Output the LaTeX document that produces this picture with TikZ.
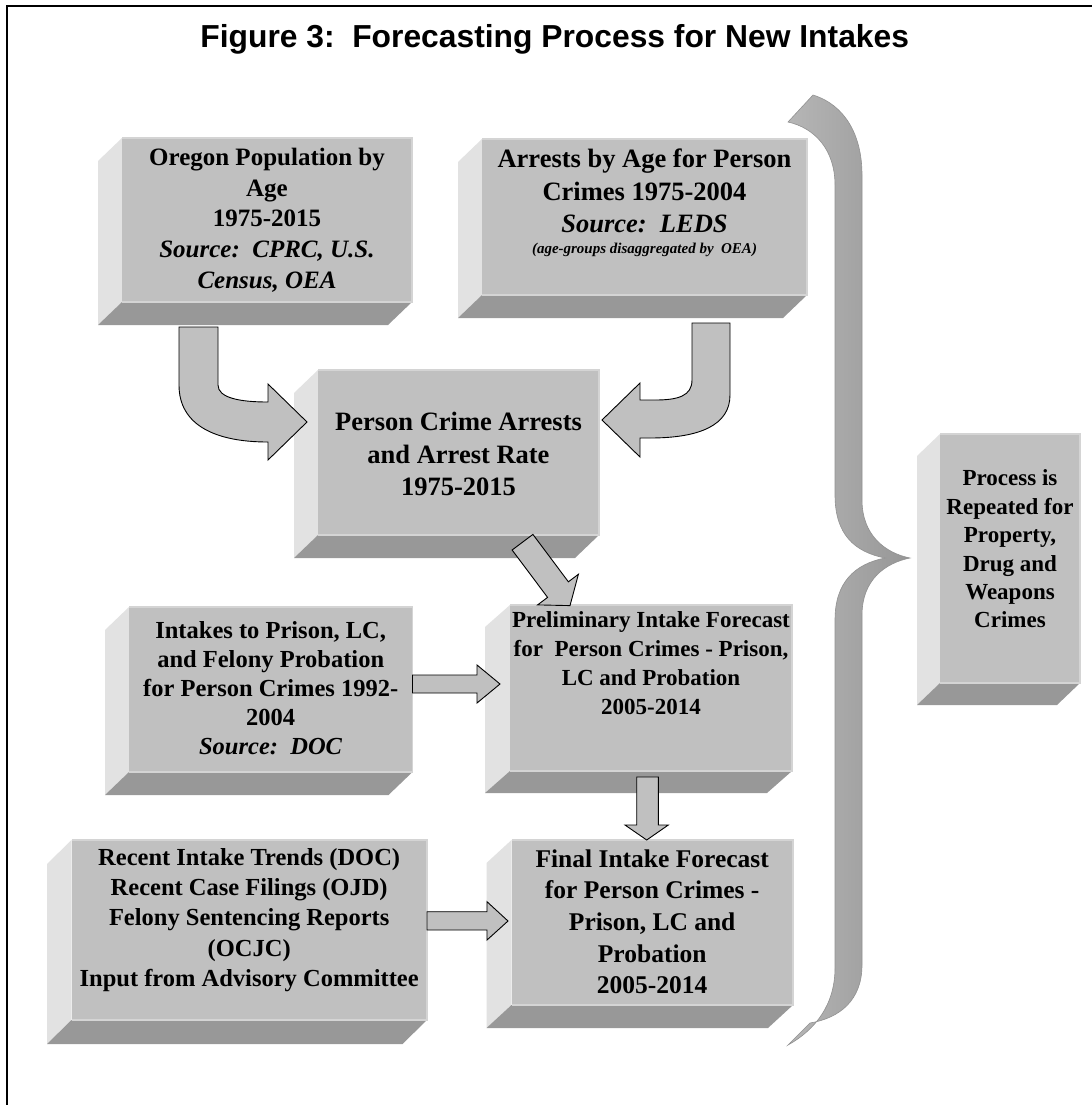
\documentclass[tikz,border=0pt]{standalone}
\usepackage{fontspec}
\setmainfont{Liberation Serif}
\newfontfamily\titlefont{Liberation Sans}
\definecolor{frontc}{RGB}{192,192,192}
\definecolor{sidec}{RGB}{226,226,226}
\definecolor{botc}{RGB}{152,152,152}
\definecolor{hic}{RGB}{212,212,212}
\definecolor{arrowc}{RGB}{192,192,192}
\definecolor{braceL}{RGB}{182,182,182}
\definecolor{braceR}{RGB}{150,150,150}
\definecolor{braceedge}{RGB}{145,145,145}
\newcommand{\bevelbox}[7]{%
  \fill[sidec] ({#2-#6},{#3+#7}) -- (#2,#3) -- (#2,#5) -- ({#2-#6},{#5+#7}) -- cycle;
  \fill[botc] (#2,#5) -- (#4,#5) -- ({#4-#6},{#5+#7}) -- ({#2-#6},{#5+#7}) -- cycle;
  \fill[frontc] (#2,#3) rectangle (#4,#5);
  \draw[hic, line width=1.2bp] (#2,#3) -- (#4,#3) -- (#4,#5) -- (#2,#5);
  \coordinate (#1) at ({(#2+#4)/2},{(#3+#5)/2});
}
\tikzset{
  blockarrow/.style={fill=arrowc, draw=black, line width=0.9bp, line join=miter},
  boxtext/.style={align=center, inner sep=0pt, anchor=north, text=black},
  fsA/.style={font=\fontsize{25bp}{30.8bp}\selectfont\bfseries},
  fsB/.style={font=\fontsize{26.5bp}{32.5bp}\selectfont\bfseries},
}
\begin{document}
\begin{tikzpicture}[x=1bp,y=-1bp]
\useasboundingbox (0,0) rectangle (1092,1105);
\fill[white] (0,0) rectangle (1092,1105);
% frame
\draw[black, line width=2bp] (7,1106) -- (7,6) -- (1093,6);
% title
\node[font=\titlefont\fontsize{31.8bp}{36bp}\selectfont\bfseries, anchor=base, inner sep=0pt] (title) at (554.7,47) {Figure 3:\ \ Forecasting Process for New Intakes};

% brace
\path[left color=braceL, right color=braceR, draw=braceedge, line width=0.6bp]
  (813,95) .. controls (845,105) and (862,135) .. (862,175)
  -- (862,500) .. controls (862,535) and (885,553) .. (910,558)
  .. controls (885,563) and (862,580) .. (862,615)
  -- (862,965) .. controls (862,1000) and (840,1018) .. (810,1023)
  -- (788,1045) .. controls (815,1030) and (835,1005) .. (835,968)
  -- (835,620) .. controls (835,582) and (855,564) .. (885,558)
  .. controls (855,552) and (835,535) .. (835,495)
  -- (835,185) .. controls (835,150) and (815,128) .. (788,122) -- cycle;

% boxes
\bevelbox{b1}{122}{138}{412}{302}{24}{23}
\bevelbox{b2}{482}{139}{807}{295}{24}{23}
\bevelbox{b3}{318}{370}{599}{535}{24}{23}
\bevelbox{b4}{129}{607}{412.5}{772}{24}{23}
\bevelbox{b5}{510}{605}{792}{771}{25}{22}
\bevelbox{b6}{511.5}{840}{793}{1005}{25}{23}
\bevelbox{b7}{71.5}{840}{427}{1020}{24.5}{24}
\bevelbox{b8}{940}{434}{1080}{683}{23}{22}

% texts
\node[boxtext, fsA] (t1) at (267,147.7) {Oregon Population by\\Age\\1975-2015\\\textit{Source:\ \ CPRC, U.S.}\\\textit{Census, OEA}};
\node[boxtext, fsB] (t2) at (644.5,148.8) {Arrests by Age for Person\\Crimes 1975-2004\\\textit{Source:\ \ LEDS}};
\node[anchor=base, inner sep=0pt, font=\fontsize{15bp}{18bp}\selectfont\bfseries\itshape] (t2s) at (644.5,253.3) {(age-groups disaggregated by\ \ OEA)};
\node[boxtext, fsB] (t3) at (458.5,412.2) {Person Crime Arrests\\and Arrest Rate\\1975-2015};
\node[boxtext, font=\fontsize{24.5bp}{29bp}\selectfont\bfseries] (t4) at (270.7,621.2) {Intakes to Prison, LC,\\and Felony Probation\\for Person Crimes 1992-\\2004\\\textit{Source:\ \ DOC}};
\node[boxtext, font=\fontsize{23bp}{29bp}\selectfont\bfseries] (t5) at (651,611) {Preliminary Intake Forecast\\for\ \ Person Crimes - Prison,\\LC and Probation\\2005-2014};
\node[boxtext, font=\fontsize{25.5bp}{31.7bp}\selectfont\bfseries] (t6) at (652.2,849.1) {Final Intake Forecast\\for Person Crimes -\\Prison, LC and\\Probation\\2005-2014};
\node[boxtext, font=\fontsize{24.5bp}{30.3bp}\selectfont\bfseries] (t7) at (249.2,847.9) {Recent Intake Trends (DOC)\\Recent Case Filings (OJD)\\Felony Sentencing Reports\\(OCJC)\\Input from Advisory Committee};
\node[boxtext, font=\fontsize{23bp}{28.4bp}\selectfont\bfseries] (t8) at (1010,469.7) {Process is\\Repeated for\\Property,\\Drug and\\Weapons\\Crimes};

% curved arrow from b1 into b3
\path[blockarrow] (179,327) -- (179,385) .. controls (179,425) and (215,442) .. (268,442)
  -- (268,460) -- (307,422) -- (268,384) -- (268,402)
  .. controls (240,402) and (218,398) .. (218,385) -- (218,327) -- cycle;
% curved arrow from b2 into b3
\path[blockarrow] (730,323) -- (730,395) .. controls (730,425) and (700,438) .. (650,438)
  -- (640,438) -- (640,457) -- (602,420) -- (640,383) -- (640,400) -- (655,400)
  .. controls (678,400) and (692,396) .. (692,380) -- (692,323) -- cycle;
% diagonal arrow b3 -> b5
\path[blockarrow] (512.1,550) -- (532.9,534.4) -- (568.4,581.8) -- (578.4,574.3)
  -- (570,605.6) -- (537.6,604.9) -- (547.6,597.4) -- cycle;
% right arrow b4 -> b5
\path[blockarrow] (412.5,675) -- (477,675) -- (477,665) -- (500,684) -- (477,703) -- (477,693) -- (412.5,693) -- cycle;
% down arrow b5 -> b6
\path[blockarrow] (636.7,777) -- (658.3,777) -- (658.3,825) -- (668.3,825) -- (646.7,840) -- (625,825) -- (636.7,825) -- cycle;
% right arrow b7 -> b6
\path[blockarrow] (427,911.7) -- (487,911.7) -- (487,901.7) -- (508,921) -- (487,940) -- (487,930) -- (427,930) -- cycle;
\end{tikzpicture}
\end{document}
